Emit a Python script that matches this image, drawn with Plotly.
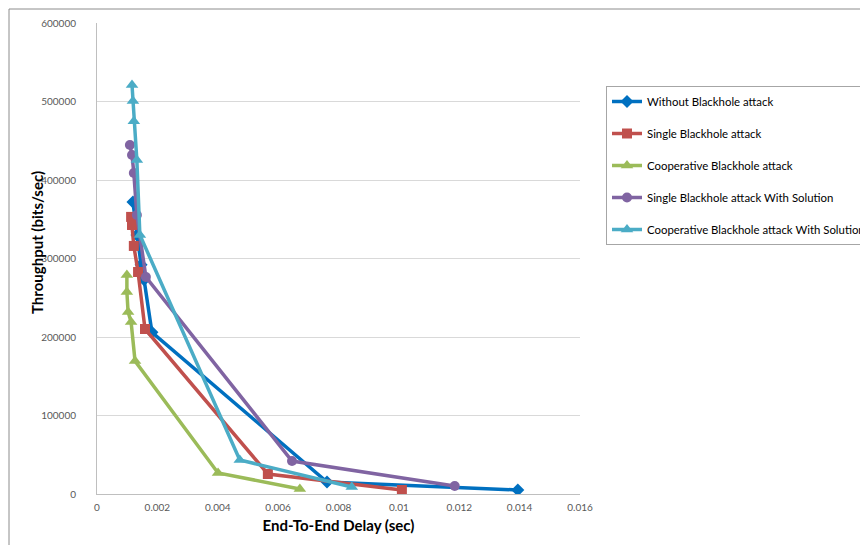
import plotly.graph_objects as go

names = [
    "Without Blackhole attack",
    "Single Blackhole attack",
    "Cooperative Blackhole attack",
    "Single Blackhole attack With Solution",
    "Cooperative Blackhole attack With Solution",
]

without_x = [0.00119, 0.00132, 0.00146, 0.00156, 0.00182, 0.00762, 0.01394]
without_y = [372000, 330000, 292000, 273000, 206000, 15300, 5100]

single_x = [0.00113, 0.00116, 0.00122, 0.00136, 0.00159, 0.00566, 0.0101]
single_y = [353000, 342700, 316000, 282800, 210200, 25500, 5100]

coop_x = [0.00099, 0.00099, 0.00103, 0.00113, 0.00126, 0.00401, 0.00672]
coop_y = [279000, 257300, 231800, 219100, 169400, 26800, 6400]

single_sol_x = [0.00109, 0.00116, 0.00122, 0.00132, 0.00162, 0.00646, 0.01185]
single_sol_y = [444600, 431800, 408900, 355400, 276400, 42000, 10200]

coop_sol_x = [0.00116, 0.00119, 0.00122, 0.00132, 0.00142, 0.00473, 0.00844]
coop_sol_y = [521000, 500600, 475000, 425500, 330000, 43300, 8900]

x_ticks = [0, 0.002, 0.004, 0.006, 0.008, 0.01, 0.012, 0.014, 0.016]
x_tick_text = ["0", "0.002", "0.004", "0.006", "0.008", "0.01", "0.012", "0.014", "0.016"]
y_ticks = [0, 100000, 200000, 300000, 400000, 500000, 600000]
y_tick_text = ["0", "100000", "200000", "300000", "400000", "500000", "600000"]

series = [
    (without_x, without_y, "#0070C0", "diamond", 10),
    (single_x, single_y, "#C0504D", "square", 10),
    (coop_x, coop_y, "#9BBB59", "triangle-up", 11),
    (single_sol_x, single_sol_y, "#8064A2", "circle", 10),
    (coop_sol_x, coop_sol_y, "#4BACC6", "triangle-up", 11),
]

fig = go.Figure()
for i, (xs, ys, col, sym, sz) in enumerate(series):
    fig.add_trace(go.Scatter(
        x=xs, y=ys, mode="lines+markers", name=names[i],
        legendgroup=f"g{i}",
        line=dict(color=col, width=3.5),
        marker=dict(color=col, symbol=sym, size=sz),
    ))

FONT = "Lato, 'Open Sans', sans-serif"

# page body adds an 8px offset; plot area in figure coords: x 89..572, y 15..486
W, H = 920, 560
L, T = 89, 15
PW, PH = 483, 471

fig.update_layout(
    width=W, height=H,
    margin=dict(l=L, r=W - L - PW, t=T, b=H - T - PH),
    paper_bgcolor="white", plot_bgcolor="white",
    font=dict(family=FONT, size=11, color="#404040"),
    showlegend=True,
    legend=dict(
        x=(606 - 8 - L) / PW, y=(T + PH - 78) / PH, xanchor="left", yanchor="top",
        bordercolor="#a6a6a6", borderwidth=1,
        font=dict(family=FONT, size=11.4, color="#000000"),
        tracegroupgap=13, itemwidth=30,
    ),
    xaxis=dict(
        range=[0, 0.016], tickvals=x_ticks, ticktext=x_tick_text,
        showgrid=False, zeroline=False, automargin=False,
        showline=True, linecolor="#bfbfbf", linewidth=1,
        ticks="", tickfont=dict(size=10, color="#595959"),
        ticklabelstandoff=4,
        title=dict(text="<b>End-To-End Delay (sec)</b>", font=dict(size=15, color="#000000"), standoff=8),
    ),
    yaxis=dict(
        range=[0, 600000], tickvals=y_ticks, ticktext=y_tick_text,
        showgrid=True, gridcolor="#d9d9d9", gridwidth=1,
        zeroline=False, automargin=False,
        showline=True, linecolor="#bfbfbf", linewidth=1,
        ticks="", tickfont=dict(size=10, color="#595959"),
        ticklabelstandoff=18,
    ),
    annotations=[dict(
        text="<b>Throughput (bits/sec)</b>", textangle=-90,
        xref="paper", yref="paper",
        x=(37 - 8 - L) / PW, y=(T + PH - (243 - 8)) / PH,
        xanchor="center", yanchor="middle", showarrow=False,
        font=dict(family=FONT, size=15, color="#000000"),
    )],
    shapes=[dict(
        type="rect", xref="paper", yref="paper",
        x0=(1 - L) / PW, x1=(W + 20 - L) / PW,
        y0=(T + PH - (H + 20)) / PH, y1=(T + PH - 1) / PH,
        line=dict(color="#8c8c8c", width=1), layer="below",
    )],
)

fig.write_html("out.html")
